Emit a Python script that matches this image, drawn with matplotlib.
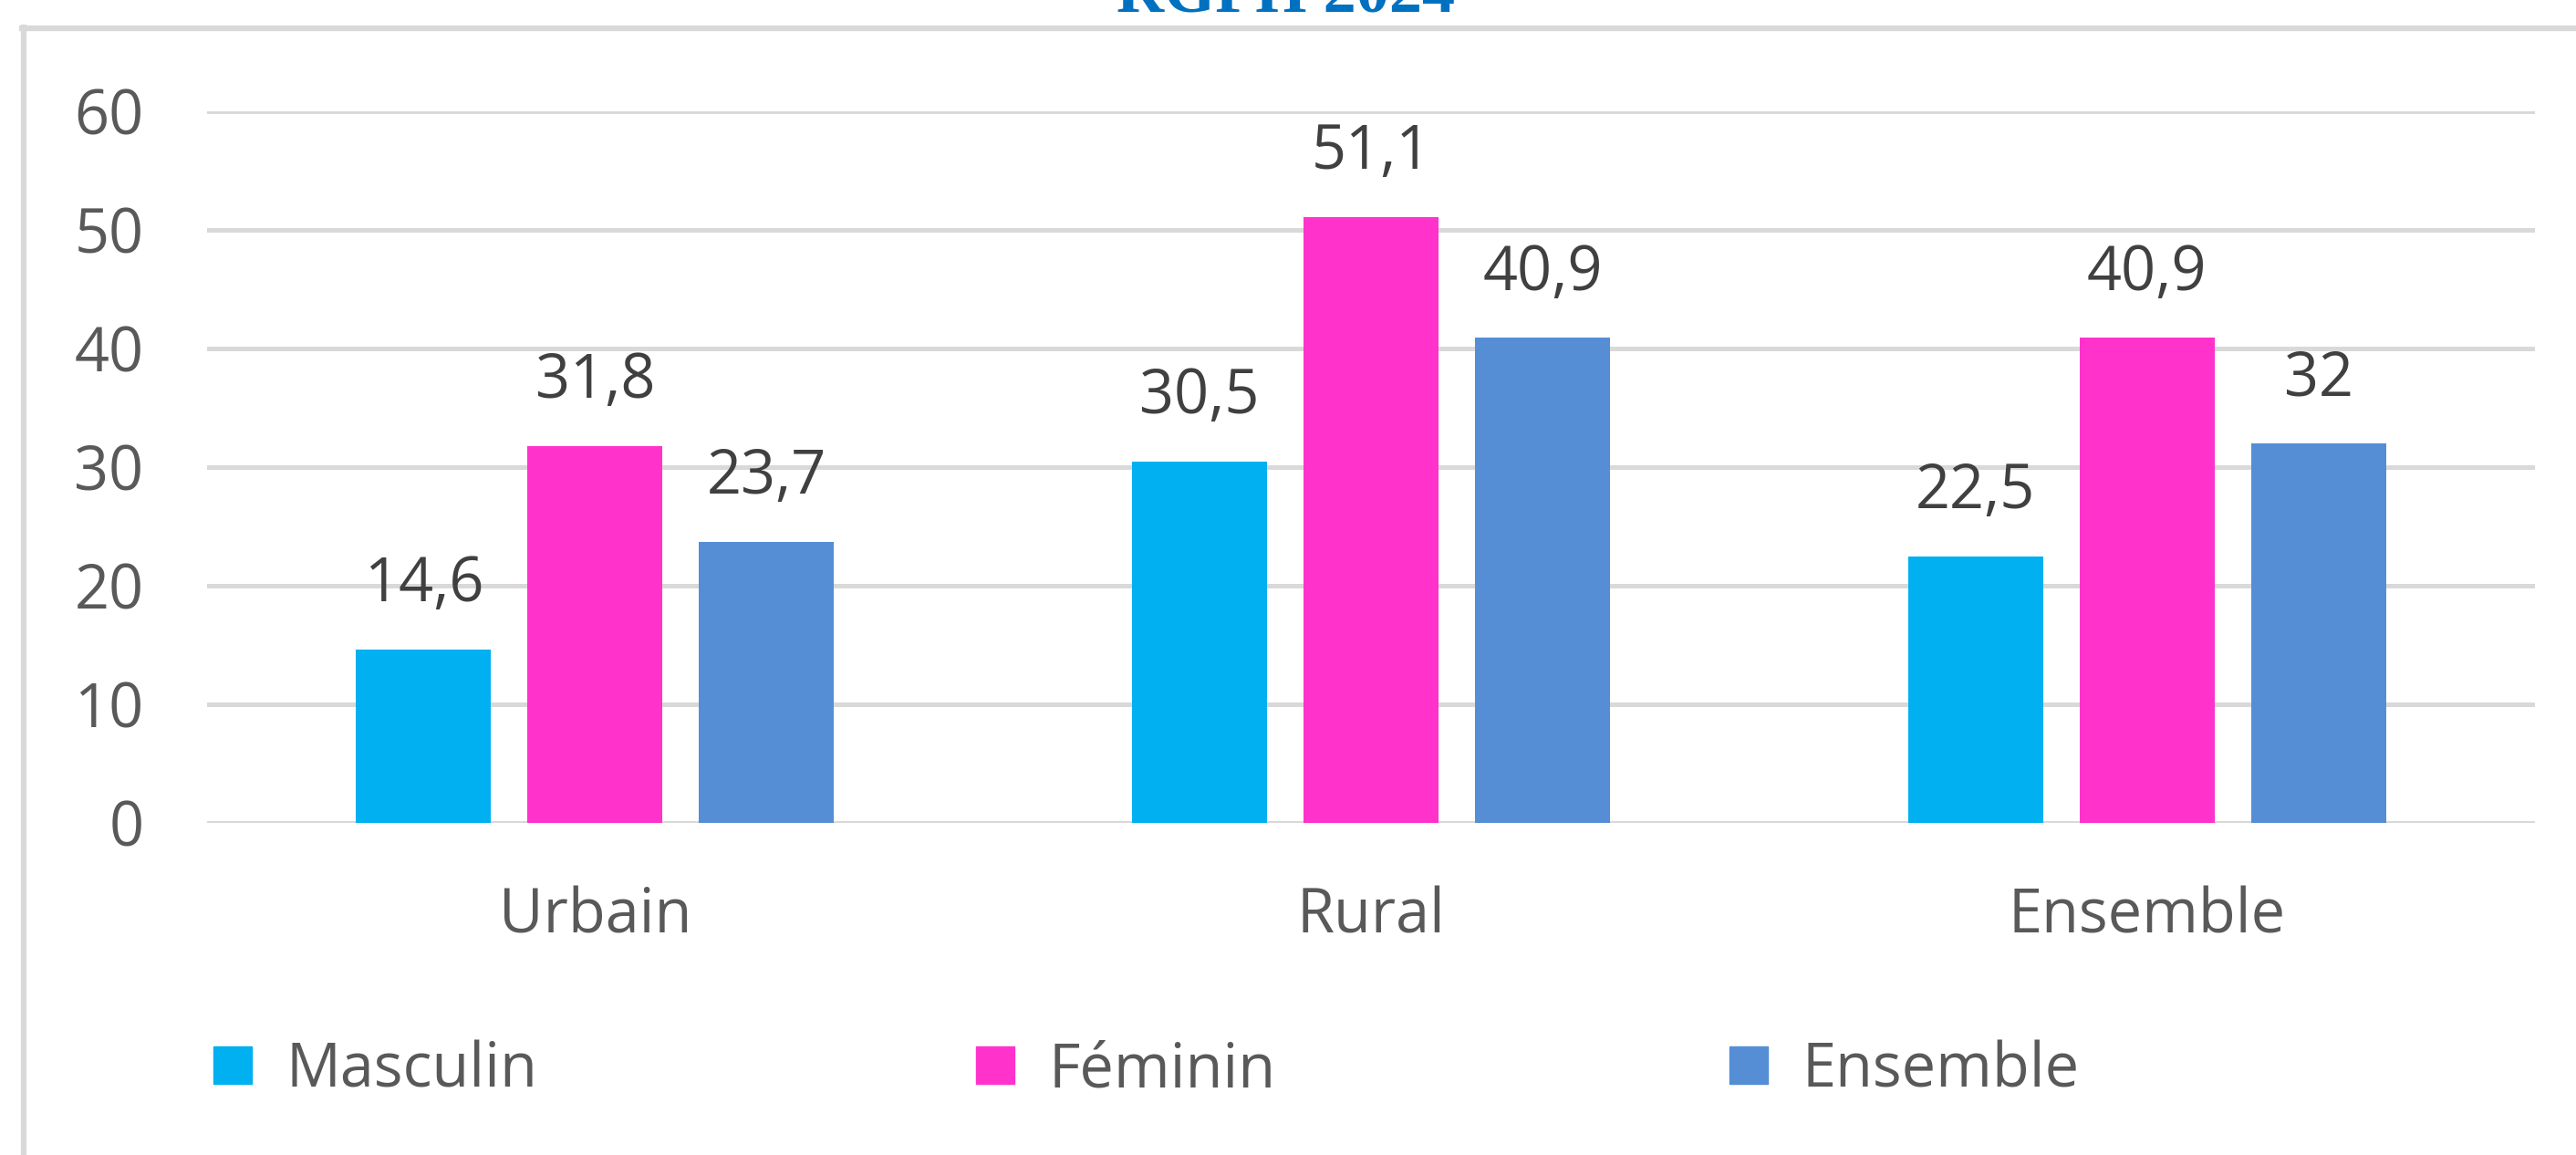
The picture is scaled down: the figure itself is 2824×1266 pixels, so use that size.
import matplotlib
matplotlib.use("Agg")
import matplotlib.pyplot as plt
import numpy as np
from matplotlib.patches import Rectangle
from matplotlib.lines import Line2D

categories = ["Urbain", "Rural", "Ensemble"]
series_names = ["Masculin", "Féminin", "Ensemble"]
masculin = [14.6, 30.5, 22.5]
feminin = [31.8, 51.1, 40.9]
ensemble = [23.7, 40.9, 32.0]
value_labels = [["14,6", "30,5", "22,5"], ["31,8", "51,1", "40,9"], ["23,7", "40,9", "32"]]
yticks = [0, 10, 20, 30, 40, 50, 60]
title = "RGPH 2024"

colors = ["#00B0F0", "#FF33CC", "#558ED5"]
W, H = 2824, 1266
plt.rcParams['font.family'] = ['Open Sans', 'DejaVu Sans']

fig = plt.figure(figsize=(W / 100, H / 100), dpi=100)
fig.patch.set_facecolor("white")

def fx(px):
    return px / W

def fy(py):
    return 1 - py / H

ax = fig.add_axes([fx(227), fy(902), fx(2779) - fx(227), fy(122) - fy(902)])
x = np.arange(len(categories))
step = 0.221
width = 0.174
data = [masculin, feminin, ensemble]
for i, (vals, c) in enumerate(zip(data, colors)):
    xs = x + (i - 1) * step
    ax.bar(xs, vals, width=width, color=c, zorder=3)
    for xi, v, lab in zip(xs, vals, value_labels[i]):
        ax.annotate(lab, (xi, v), xytext=(0, 38), textcoords="offset points",
                    ha="center", va="baseline", fontsize=48, color="#404040")

ax.set_xlim(-0.5, 2.5)
ax.set_ylim(0, 60)
ax.set_yticks(yticks)
ax.set_yticklabels([str(t) for t in yticks])
ax.set_xticks(x)
ax.set_xticklabels(categories)
ax.tick_params(axis="y", length=0, pad=50, labelsize=48, labelcolor="#595959")
ax.tick_params(axis="x", length=0, pad=50, labelsize=48, labelcolor="#595959")
ax.grid(axis="y", color="#D9D9D9", linewidth=3.6, zorder=0)
ax.set_axisbelow(True)
for s in ax.spines.values():
    s.set_visible(False)
ax.axhline(0, color="#D9D9D9", linewidth=3.6, zorder=2)
ax.set_facecolor("none")

# chart frame (left and top borders)
fig.add_artist(Line2D([fx(26), fx(26)], [fy(30), 0], color="#D9D9D9", linewidth=4.5))
fig.add_artist(Line2D([fx(24), 1], [fy(31), fy(31)], color="#D9D9D9", linewidth=4.5))

# title (cropped at top, as in the reference)
fig.text(fx(1410), fy(13), title, ha="center", va="baseline", fontsize=52,
         fontweight="bold", color="#0070C0", family=["Liberation Serif", "DejaVu Serif"])

# legend
leg_x = [234, 1070, 1896]
for lx, name, c in zip(leg_x, series_names, colors):
    fig.add_artist(Rectangle((fx(lx), fy(1188)), fx(42), fy(1147) - fy(1188), color=c,
                             transform=fig.transFigure))
    fig.text(fx(lx + 80), fy(1191), name, ha="left", va="baseline", fontsize=48, color="#595959")

fig.savefig("out.png", dpi=100, facecolor="white")
